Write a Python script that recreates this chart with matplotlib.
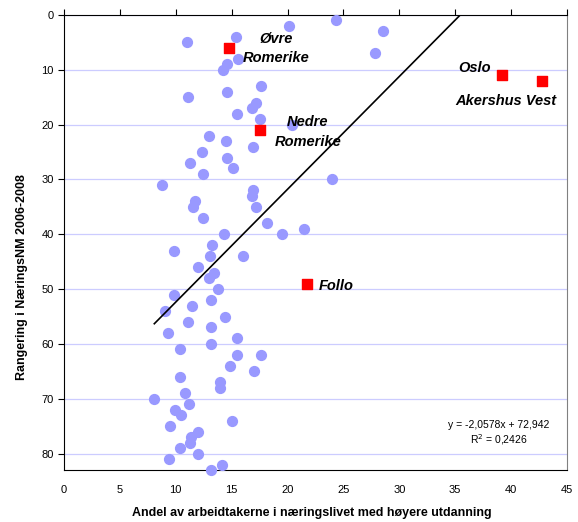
import numpy as np
import matplotlib
matplotlib.use("Agg")
import matplotlib.pyplot as plt

plt.rcParams['font.family'] = ['Liberation Sans', 'DejaVu Sans']

# kommuner (blue points)
andel = [10.97, 15.4, 20.1, 24.3, 28.5, 27.8, 15.6, 14.55, 14.2, 11.06,
         14.55, 17.65, 17.2, 16.85, 15.5, 17.56, 20.4, 13.0, 14.46, 16.94,
         12.37, 14.55, 11.27, 15.15, 12.46, 8.8, 24.0, 16.94, 16.85, 11.69,
         11.54, 17.2, 12.43, 18.13, 14.34, 19.5, 21.5, 13.27, 9.8, 13.09,
         15.98, 11.99, 13.39, 12.94, 13.75, 9.8, 11.45, 13.18, 9.06, 11.06,
         14.37, 13.18, 9.27, 13.18, 15.5, 10.35, 15.5, 17.65, 14.85, 17.0,
         10.35, 14.0, 13.93, 10.8, 8.08, 11.18, 9.96, 10.47, 15.03, 9.5,
         11.96, 11.36, 11.27, 10.35, 11.99, 9.42, 14.1, 13.18]
rang = [5, 4, 2, 1, 3, 7, 8, 9, 10, 15,
        14, 13, 16, 17, 18, 19, 20, 22, 23, 24,
        25, 26, 27, 28, 29, 31, 30, 32, 33, 34,
        35, 35, 37, 38, 40, 40, 39, 42, 43, 44,
        44, 46, 47, 48, 50, 51, 53, 52, 54, 56,
        55, 57, 58, 60, 59, 61, 62, 62, 64, 65,
        66, 67, 68, 69, 70, 71, 72, 73, 74, 75,
        76, 77, 78, 79, 80, 81, 82, 83]

# regioner (red squares)
regioner = ["Øvre\nRomerike", "Nedre\nRomerike", "Oslo", "Akershus Vest", "Follo"]
reg_andel = [14.8, 17.56, 39.2, 42.8, 21.7]
reg_rang = [6, 21, 11, 12, 49]

# trendline
stigning = -2.0578
konstant = 72.942

fig = plt.figure(figsize=(5.78, 5.22), dpi=100)
ax = fig.add_axes([64/578, 1-470/522, (567-64)/578, (470-15)/522])

ax.set_xlim(0, 45)
ax.set_ylim(83, 0)
ax.set_yticks(range(0, 81, 10))
ax.set_xticks(range(0, 46, 5))
ax.yaxis.grid(True, color='#ccccff', lw=0.9)
ax.set_axisbelow(True)

ax.scatter(andel, rang, s=50, color='#9999ff', zorder=3, clip_on=False)
ax.scatter(reg_andel, reg_rang, s=50, marker='s', color='#ff0000', zorder=4)

xl = np.array([min(andel), max(reg_andel)])
ax.plot(xl, stigning*xl + konstant, color='black', lw=1.2, zorder=5)

# labels
lab = dict(fontsize=10.5, fontweight='bold', style='italic', zorder=6)
ax.text(19.0, 6.1, regioner[0], ha='center', va='center', linespacing=1.5, **lab)
ax.text(21.8, 21.3, regioner[1], ha='center', va='center', linespacing=1.5, **lab)
ax.text(36.7, 9.6, regioner[2], ha='center', va='center', **lab)
ax.text(39.5, 15.6, regioner[3], ha='center', va='center', **lab)
ax.text(22.8, 49.5, regioner[4], ha='left', va='center', **lab)

ax.text(38.9, 74.8, "y = -2,0578x + 72,942", ha='center', va='center', fontsize=7.5)
ax.text(38.9, 77.4, "R$^2$ = 0,2426", ha='center', va='center', fontsize=7.5)

ax.tick_params(axis='x', top=True, bottom=False, labeltop=False, labelbottom=True,
               direction='out', length=4, labelsize=8, pad=7)
ax.tick_params(axis='y', direction='out', length=4, labelsize=8)
ax.spines['right'].set_color('#808080')
for s in ['left', 'top', 'bottom']:
    ax.spines[s].set_color('black')

ax.set_xlabel("Andel av arbeidtakerne i næringslivet med høyere utdanning",
              fontsize=9, fontweight='bold', va='center')
ax.xaxis.set_label_coords(0.493, -0.095)
ax.set_ylabel("Rangering i NæringsNM 2006-2008", fontsize=9, fontweight='bold', va='center')
ax.yaxis.set_label_coords(-0.083, 0.424)

fig.savefig("out.png", dpi=100)
